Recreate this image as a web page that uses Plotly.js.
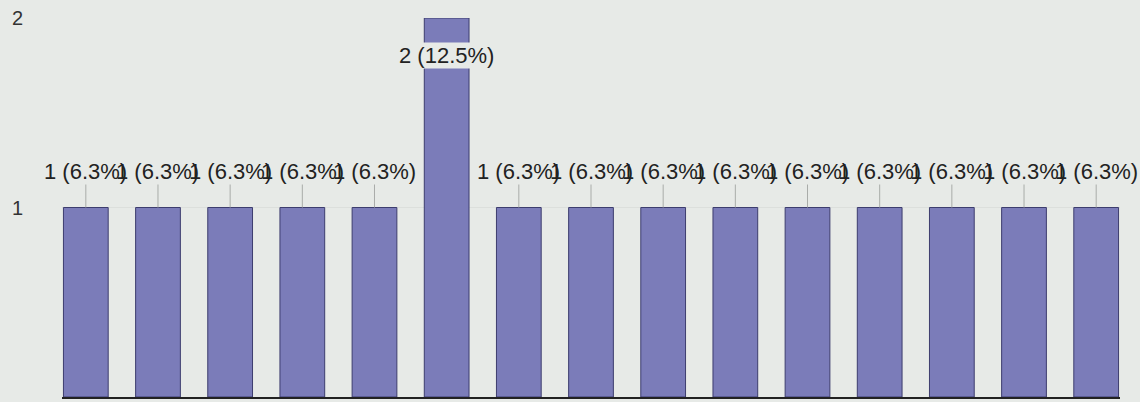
<!DOCTYPE html>
<html><head><meta charset="utf-8">
<script src="https://cdn.plot.ly/plotly-3.0.1.min.js"></script>
<style>html,body{margin:0;padding:0;background:#e7eae7;}#chart{width:1140px;height:402px;}</style>
</head><body><div id="chart"></div>
<script>
const categories = ["Q1","Q2","Q3","Q4","Q5","Q6","Q7","Q8","Q9","Q10","Q11","Q12","Q13","Q14","Q15"];
const counts = [1,1,1,1,1,2,1,1,1,1,1,1,1,1,1];
const percents = [6.3,6.3,6.3,6.3,6.3,12.5,6.3,6.3,6.3,6.3,6.3,6.3,6.3,6.3,6.3];
const yTicks = [0,1,2];

const maxC = Math.max(...counts);
const annotations = categories.map((c,i)=>{
  const txt = counts[i] + " (" + percents[i] + "%)";
  const isMax = counts[i] === maxC;
  return {
    x: i, y: counts[i], xref:'x', yref:'y', text: txt,
    showarrow: true, arrowhead: 0, arrowwidth: isMax ? 0.1 : 1,
    arrowcolor: isMax ? 'rgba(0,0,0,0)' : '#a9aca9',
    ax: 0, ay: isMax ? 37 : -36,
    font: {family:'Liberation Sans, Arial, sans-serif', size:22, color:'#222'},
    bgcolor: isMax ? '#e7eae7' : 'rgba(0,0,0,0)',
    borderpad: 0
  };
});
// zero label at the bottom edge, partly visible like the reference
annotations.push({xref:'paper', yref:'y', x:0, y:0, xshift:-54, yshift:-4, showarrow:false,
  text:String(yTicks[0]), xanchor:'left', yanchor:'top',
  font:{family:'Liberation Sans, Arial, sans-serif', size:20, color:'#333'}});

const trace = {
  type:'bar', x: categories, y: counts,
  marker:{color:'#7b7cb9', line:{color:'#3d3d6e', width:1}},
  width: 0.62, hoverinfo:'none'
};
const layout = {
  width:1140, height:402,
  margin:{l:62, r:20, t:18, b:5},
  paper_bgcolor:'#e7eae7', plot_bgcolor:'#e7eae7',
  showlegend:false,
  xaxis:{type:'category', showticklabels:false, showgrid:false, zeroline:false,
         showline:true, linecolor:'#222', linewidth:2, range:[-0.33, 14.33], fixedrange:true},
  yaxis:{range:[0,2], tickvals:yTicks.slice(1), ticktext:yTicks.slice(1).map(String), showgrid:true, gridcolor:'#dcdfdc',
         zeroline:false, showline:false, ticklabelstandoff:38,
         tickfont:{family:'Liberation Sans, Arial, sans-serif', size:20, color:'#333'}},
  annotations: annotations
};
Plotly.newPlot('chart',[trace],layout,{staticPlot:true});
</script></body></html>
